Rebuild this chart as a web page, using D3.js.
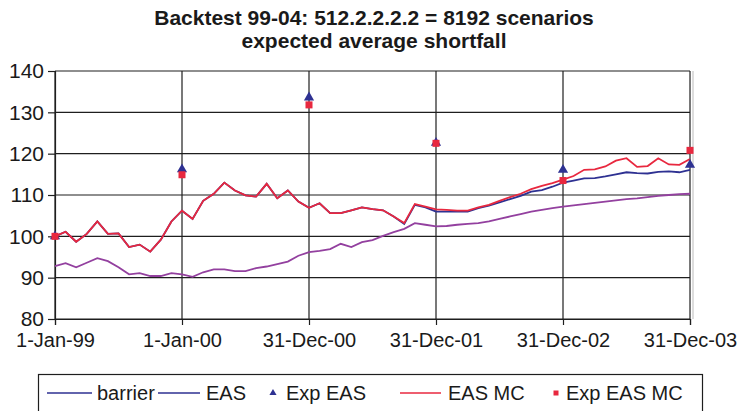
<!DOCTYPE html>
<html><head><meta charset="utf-8">
<script src="https://cdn.jsdelivr.net/npm/d3@7/dist/d3.min.js"></script>
<style>
html,body{margin:0;padding:0;background:#fff;}
text{font-family:"Liberation Sans",Arial,sans-serif;}
</style></head>
<body>
<svg id="chart" width="740" height="411"></svg>
<script>
// ---- data ----
const titleLines = ["Backtest 99-04: 512.2.2.2.2 = 8192 scenarios", "expected average shortfall"];
const xTickIndex = [0, 12, 24, 36, 48, 60];
const xTickLabels = ["1-Jan-99", "1-Jan-00", "31-Dec-00", "31-Dec-01", "31-Dec-02", "31-Dec-03"];
const yTicks = [80, 90, 100, 110, 120, 130, 140];
const seriesNames = ["barrier", "EAS", "Exp EAS", "EAS MC", "Exp EAS MC"];

const barrier = [92.8, 93.5, 92.5, 93.6, 94.7, 94.0, 92.5, 90.8, 91.1, 90.4, 90.4, 91.1, 90.8,
  90.2, 91.3, 92.0, 92.0, 91.6, 91.6, 92.3, 92.7, 93.3, 93.9, 95.3, 96.2,
  96.5, 96.9, 98.2, 97.4, 98.6, 99.1, 100.1, 101.0, 101.8, 103.2, 102.8, 102.4,
  102.5, 102.8, 103.0, 103.2, 103.6, 104.2, 104.8, 105.4, 106.0, 106.4, 106.8, 107.2,
  107.5, 107.8, 108.1, 108.4, 108.7, 109.0, 109.2, 109.5, 109.8, 110.0, 110.2, 110.3];

const eas = [100, 101.1, 98.7, 100.6, 103.6, 100.6, 100.7, 97.4, 98.0, 96.3, 99.2, 103.6, 106.2,
  104.2, 108.6, 110.3, 113.0, 111.1, 109.9, 109.6, 112.7, 109.2, 111.1, 108.4, 106.9,
  108.0, 105.6, 105.6, 106.3, 107.0, 106.6, 106.3, 104.8, 103.0, 107.6, 107.0, 106.0,
  106.0, 106.0, 106.0, 106.8, 107.4, 108.2, 109.0, 109.8, 110.8, 111.2, 112.0, 113.0,
  113.5, 114.0, 114.1, 114.5, 115.0, 115.5, 115.3, 115.2, 115.6, 115.7, 115.5, 116.1];

const easMC = [100, 101.1, 98.7, 100.6, 103.6, 100.6, 100.7, 97.4, 98.0, 96.3, 99.2, 103.6, 106.2,
  104.2, 108.6, 110.3, 113.0, 111.1, 109.9, 109.6, 112.7, 109.2, 111.1, 108.4, 106.9,
  108.0, 105.6, 105.6, 106.3, 107.0, 106.6, 106.3, 104.8, 103.2, 107.8, 107.2, 106.5,
  106.4, 106.2, 106.2, 107.0, 107.6, 108.6, 109.5, 110.3, 111.4, 112.2, 112.9, 113.7,
  114.6, 116.1, 116.2, 116.9, 118.3, 118.9, 116.8, 117.0, 118.9, 117.4, 117.3, 118.7];

const expEAS = [100, 116.2, 133.6, 122.6, 116.1, 117.3];
const expEASMC = [100, 114.9, 131.8, 122.5, 113.5, 120.8];

// ---- layout ----
const svg = d3.select("#chart");
const pL = 55, pR = 690, pT = 71, pB = 319;
const x = d3.scaleLinear().domain([0, 60]).range([pL, pR]);
const y = d3.scaleLinear().domain([80, 140]).range([pB, pT]);

const colBarrier = "#93409f", colEAS = "#2e3192", colMC = "#e8283f";

// title
svg.selectAll("text.title").data(titleLines).enter().append("text")
  .attr("class", "title")
  .attr("x", 374).attr("y", (d, i) => 25 + i * 23)
  .attr("text-anchor", "middle")
  .attr("font-size", 21).attr("font-weight", "bold").attr("fill", "#1a1a1a")
  .text(d => d);

// gridlines
const grid = svg.append("g").attr("stroke", "#1e1e1e").attr("stroke-width", 1.2);
grid.selectAll("line.h").data(yTicks).enter().append("line")
  .attr("x1", pL).attr("x2", pR).attr("y1", d => y(d)).attr("y2", d => y(d));
grid.selectAll("line.v").data(xTickIndex).enter().append("line")
  .attr("x1", d => x(d)).attr("x2", d => x(d)).attr("y1", pT).attr("y2", pB);
svg.append("line").attr("x1", pR + 3).attr("x2", pR + 3).attr("y1", pT).attr("y2", pB)
  .attr("stroke", "#bbb").attr("stroke-width", 1);

// axes
const yAxis = svg.append("g").attr("transform", `translate(${pL},0)`)
  .call(d3.axisLeft(y).tickValues(yTicks).tickSize(7).tickPadding(4).tickFormat(d3.format("d")));
const xAxis = svg.append("g").attr("transform", `translate(0,${pB})`)
  .call(d3.axisBottom(x).tickValues(xTickIndex).tickSize(6).tickPadding(8)
    .tickFormat((d, i) => xTickLabels[i]));
[yAxis, xAxis].forEach(g => {
  g.select(".domain").attr("stroke", "#1e1e1e").attr("stroke-width", 1.2);
  g.selectAll(".tick line").attr("stroke", "#1e1e1e").attr("stroke-width", 1.2);
  g.selectAll(".tick text").attr("font-size", 20).attr("fill", "#1a1a1a")
    .attr("font-family", "'Liberation Sans', Arial, sans-serif");
});
yAxis.selectAll(".tick text").attr("font-size", 21);

// lines
const line = d3.line().x((d, i) => x(i)).y(d => y(d));
svg.append("path").datum(barrier).attr("d", line).attr("fill", "none")
  .attr("stroke", colBarrier).attr("stroke-width", 1.8);
svg.append("path").datum(eas).attr("d", line).attr("fill", "none")
  .attr("stroke", colEAS).attr("stroke-width", 1.8);
svg.append("path").datum(easMC).attr("d", line).attr("fill", "none")
  .attr("stroke", colMC).attr("stroke-width", 1.8);

// markers
const tri = d3.symbol().type(d3.symbolTriangle).size(45);
svg.selectAll("path.exp").data(expEAS).enter().append("path")
  .attr("class", "exp")
  .attr("d", tri)
  .attr("transform", (d, i) => `translate(${x(xTickIndex[i])},${y(d)})`)
  .attr("fill", colEAS);
svg.selectAll("rect.expmc").data(expEASMC).enter().append("rect")
  .attr("class", "expmc")
  .attr("x", (d, i) => x(xTickIndex[i]) - 3.5).attr("y", d => y(d) - 3.5)
  .attr("width", 7).attr("height", 7).attr("fill", colMC);

// legend
const lg = svg.append("g");
lg.append("rect").attr("x", 38.5).attr("y", 374.5).attr("width", 664).attr("height", 45)
  .attr("fill", "#fff").attr("stroke", "#1e1e1e").attr("stroke-width", 1.2);
const legendItems = [
  {name: seriesNames[0], kind: "line", color: colEAS, x0: 47, x1: 92, tx: 97},
  {name: seriesNames[1], kind: "line", color: colEAS, x0: 158, x1: 200, tx: 206},
  {name: seriesNames[2], kind: "tri", color: colEAS, x0: 273, tx: 286},
  {name: seriesNames[3], kind: "line", color: colMC, x0: 400, x1: 441, tx: 448},
  {name: seriesNames[4], kind: "sq", color: colMC, x0: 556, tx: 566}
];
const ly = 393;
legendItems.forEach(it => {
  if (it.kind === "line") {
    lg.append("line").attr("x1", it.x0).attr("x2", it.x1).attr("y1", ly).attr("y2", ly)
      .attr("stroke", it.color).attr("stroke-width", 1.4);
  } else if (it.kind === "tri") {
    lg.append("path").attr("d", d3.symbol().type(d3.symbolTriangle).size(22))
      .attr("transform", `translate(${it.x0},${ly})`).attr("fill", it.color);
  } else {
    lg.append("rect").attr("x", it.x0 - 2.5).attr("y", ly - 2.5).attr("width", 5).attr("height", 5)
      .attr("fill", it.color);
  }
  lg.append("text").attr("x", it.tx).attr("y", ly + 7).attr("font-size", 20)
    .attr("fill", "#1a1a1a").text(it.name);
});
</script>
</body></html>
